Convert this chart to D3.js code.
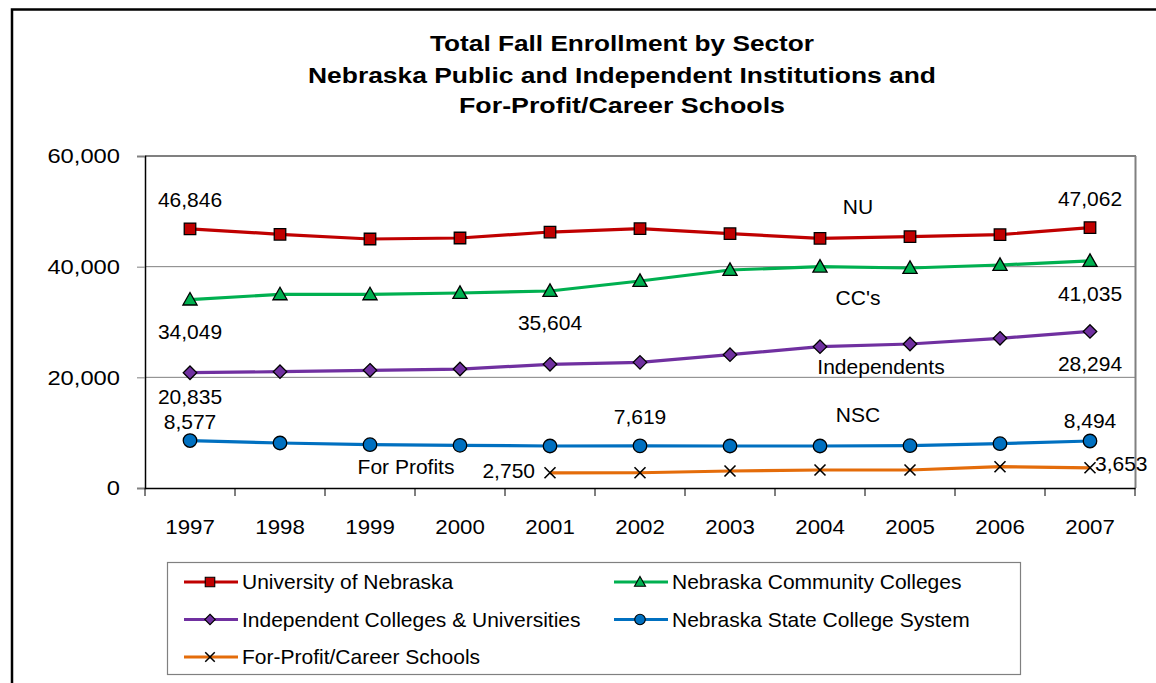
<!DOCTYPE html>
<html>
<head>
<meta charset="utf-8">
<script src="https://cdn.jsdelivr.net/npm/d3@7"></script>
<style>
  html, body { margin: 0; padding: 0; background: #fff; }
  svg { display: block; font-family: Arial, "Liberation Sans", sans-serif; }
</style>
</head>
<body>
<svg id="chart" width="1156" height="683"></svg>
<script>
// ---------------- data ----------------
const years = ["1997","1998","1999","2000","2001","2002","2003","2004","2005","2006","2007"];
const nuValues  = [46846, 45850, 45000, 45180, 46260, 46860, 45960, 45120, 45420, 45780, 47062];
const ccValues  = [34049, 35000, 35000, 35240, 35604, 37410, 39400, 40000, 39760, 40300, 41035];
const indValues = [20835, 21020, 21270, 21500, 22350, 22710, 24090, 25540, 26020, 27050, 28294];
const nscValues = [8577, 8130, 7830, 7710, 7590, 7619, 7590, 7590, 7650, 8010, 8494];
const fpValues  = [null, null, null, null, 2750, 2760, 3070, 3250, 3250, 3850, 3653];
const yTicks = [0, 20000, 40000, 60000];
const titleLines = [
  "Total Fall Enrollment by Sector",
  "Nebraska Public and Independent Institutions and",
  "For-Profit/Career Schools"
];
const seriesNames = [
  "University of Nebraska",
  "Nebraska Community Colleges",
  "Independent Colleges & Universities",
  "Nebraska State College System",
  "For-Profit/Career Schools"
];
const shortNames = ["NU", "CC's", "Independents", "NSC", "For Profits"];

// ---------------- setup ----------------
const svg = d3.select("#chart");
const M = { left: 145, right: 1135, top: 156, bottom: 488 };
const FONT = "Arial, 'Liberation Sans', sans-serif";

const x = d3.scaleBand().domain(years).range([M.left, M.right]).padding(0);
const xc = d => x(d) + x.bandwidth() / 2;
const y = d3.scaleLinear().domain([0, 60000]).range([M.bottom, M.top]);
const fmt = d3.format(",");

const series = [
  { name: seriesNames[0], values: nuValues,  color: "#C00000", marker: "square" },
  { name: seriesNames[1], values: ccValues,  color: "#00B050", marker: "triangle" },
  { name: seriesNames[2], values: indValues, color: "#7030A0", marker: "diamond" },
  { name: seriesNames[3], values: nscValues, color: "#0070C0", marker: "circle" },
  { name: seriesNames[4], values: fpValues,  color: "#E46C0A", marker: "x" }
];

function markerPath(type, s) {
  const h = s / 2;
  switch (type) {
    case "square": return `M${-h},${-h}H${h}V${h}H${-h}Z`;
    case "triangle": return `M0,${-h * 1.05}L${h * 1.05},${h * 0.8}L${-h * 1.05},${h * 0.8}Z`;
    case "diamond": return `M0,${-h}L${h},0L0,${h}L${-h},0Z`;
    case "circle": return `M${h},0A${h},${h} 0 1,1 ${-h},0A${h},${h} 0 1,1 ${h},0Z`;
    case "x": return `M${-h},${-h}L${h},${h}M${h},${-h}L${-h},${h}`;
  }
}
const markerSize = { square: 11.5, triangle: 13.5, diamond: 13.5, circle: 13.5, x: 11 };
const legendMarkerSize = { square: 9.5, triangle: 10.5, diamond: 10.5, circle: 10.5, x: 9.5 };

// stretch text horizontally by a factor (reference text is slightly wide)
function stretch(sel, k) {
  sel.each(function () {
    const w = this.getComputedTextLength();
    d3.select(this).attr("textLength", w * k).attr("lengthAdjust", "spacingAndGlyphs");
  });
}

// ---------------- frame ----------------
svg.append("rect").attr("x", 12).attr("y", 9.5).attr("width", 1170).attr("height", 700)
  .attr("fill", "none").attr("stroke", "#000").attr("stroke-width", 2.5);

// ---------------- title ----------------
const titleLens = [384, 628, 326];
const titleBase = [51, 82.5, 112.5];
titleLines.forEach((t, i) => {
  svg.append("text").attr("x", 622).attr("y", titleBase[i])
    .attr("text-anchor", "middle").attr("font-weight", "bold").attr("font-size", 22.5)
    .attr("textLength", titleLens[i]).attr("lengthAdjust", "spacingAndGlyphs")
    .text(t);
});

// ---------------- grid & plot border ----------------
svg.append("g").selectAll("line").data(yTicks.filter(v => v > 0 && v < 60000)).join("line")
  .attr("x1", M.left).attr("x2", M.right).attr("y1", d => y(d)).attr("y2", d => y(d))
  .attr("stroke", "#808080").attr("stroke-width", 1);
svg.append("line").attr("x1", M.left).attr("x2", M.right + 1).attr("y1", y(60000)).attr("y2", y(60000))
  .attr("stroke", "#808080").attr("stroke-width", 2);
svg.append("line").attr("x1", M.right + 0.5).attr("x2", M.right + 0.5).attr("y1", M.top).attr("y2", M.bottom)
  .attr("stroke", "#808080").attr("stroke-width", 2);

// ---------------- axes ----------------
const yAxis = d3.axisLeft(y).tickValues(yTicks).tickFormat(fmt).tickSize(8).tickPadding(17);
const gy = svg.append("g").attr("transform", `translate(${M.left},0)`).call(yAxis);
gy.select(".domain").attr("stroke", "#000").attr("stroke-width", 1.5);
gy.selectAll(".tick line").attr("stroke", "#808080").attr("stroke-width", 1);
gy.selectAll(".tick text").attr("font-size", 21).attr("fill", "#000").attr("font-family", FONT)
  .call(stretch, 1.13);

const xAxis = d3.axisBottom(x).tickSize(0).tickPadding(31);
const gx = svg.append("g").attr("transform", `translate(0,${M.bottom})`).call(xAxis);
gx.select(".domain").attr("stroke", "#000").attr("stroke-width", 1.5);
gx.selectAll(".tick text").attr("font-size", 21).attr("fill", "#000").attr("font-family", FONT)
  .call(stretch, 1.06);
// category boundary ticks
const bounds = years.map(d => x(d)).concat([x(years[years.length - 1]) + x.bandwidth()]);
svg.append("g").selectAll("line").data(bounds).join("line")
  .attr("x1", d => d).attr("x2", d => d).attr("y1", M.bottom).attr("y2", M.bottom + 8)
  .attr("stroke", "#000").attr("stroke-width", 1);

// ---------------- lines & markers ----------------
const line = d3.line().defined(d => d.v != null).x(d => xc(d.year)).y(d => y(d.v));
series.forEach(s => {
  const pts = years.map((yr, i) => ({ year: yr, v: s.values[i] }));
  svg.append("path").datum(pts).attr("d", line)
    .attr("fill", "none").attr("stroke", s.color).attr("stroke-width", 3.2)
    .attr("stroke-linejoin", "round");
  svg.append("g").selectAll("path").data(pts.filter(p => p.v != null)).join("path")
    .attr("transform", p => `translate(${xc(p.year)},${y(p.v)})`)
    .attr("d", markerPath(s.marker, markerSize[s.marker]))
    .attr("fill", s.marker === "x" ? "none" : s.color)
    .attr("stroke", "#000").attr("stroke-width", s.marker === "x" ? 1.6 : 1.3);
});

// ---------------- data labels ----------------
const dataLabels = [
  { s: 0, year: "1997", dx: 0, dy: -22, anchor: "middle" },
  { s: 0, year: "2007", dx: 0, dy: -21.5, anchor: "middle" },
  { s: 1, year: "1997", dx: 0, dy: 39, anchor: "middle" },
  { s: 1, year: "2001", dx: 0, dy: 39, anchor: "middle" },
  { s: 1, year: "2007", dx: 0, dy: 40, anchor: "middle" },
  { s: 2, year: "1997", dx: 0, dy: 31.5, anchor: "middle" },
  { s: 2, year: "2007", dx: 0, dy: 39.5, anchor: "middle" },
  { s: 3, year: "1997", dx: 0, dy: -11.5, anchor: "middle" },
  { s: 3, year: "2002", dx: 0, dy: -21.5, anchor: "middle" },
  { s: 3, year: "2007", dx: 0, dy: -13.3, anchor: "middle" },
  { s: 4, year: "2001", dx: -15, dy: 5.5, anchor: "end" },
  { s: 4, year: "2007", dx: 5, dy: 3, anchor: "start" }
];
svg.append("g").selectAll("text").data(dataLabels).join("text")
  .attr("x", d => xc(d.year) + d.dx)
  .attr("y", d => y(series[d.s].values[years.indexOf(d.year)]) + d.dy)
  .attr("text-anchor", d => d.anchor).attr("font-size", 21)
  .text(d => fmt(series[d.s].values[years.indexOf(d.year)]));

// ---------------- series name labels ----------------
const nameLabels = [
  { i: 0, year: "2004", dx: 38, v: 60000, dy: 58 },
  { i: 1, year: "2004", dx: 38, v: 40000, dy: 38 },
  { i: 2, year: "2004", dx: 61, v: 20000, dy: -3.5 },
  { i: 3, year: "2004", dx: 38, v: 20000, dy: 45 },
  { i: 4, year: "1999", dx: 36, v: 0, dy: -14.5 }
];
svg.append("g").selectAll("text").data(nameLabels).join("text")
  .attr("x", d => xc(d.year) + d.dx).attr("y", d => y(d.v) + d.dy)
  .attr("text-anchor", "middle").attr("font-size", 21)
  .text(d => shortNames[d.i]);

// ---------------- legend ----------------
const lg = svg.append("g");
lg.append("rect").attr("x", 167.5).attr("y", 562.5).attr("width", 853).attr("height", 112)
  .attr("fill", "#fff").attr("stroke", "#808080").attr("stroke-width", 1.2);
const legendPos = [
  { x: 184, y: 582 }, { x: 614, y: 582 },
  { x: 184, y: 619.5 }, { x: 614, y: 619.5 },
  { x: 184, y: 657 }
];
series.forEach((s, i) => {
  const p = legendPos[i];
  const g = lg.append("g").attr("transform", `translate(${p.x},${p.y})`);
  g.append("line").attr("x1", 0).attr("x2", 54).attr("y1", 0).attr("y2", 0)
    .attr("stroke", s.color).attr("stroke-width", 3.2);
  g.append("path").attr("transform", "translate(26,0)")
    .attr("d", markerPath(s.marker, legendMarkerSize[s.marker]))
    .attr("fill", s.marker === "x" ? "none" : s.color)
    .attr("stroke", "#000").attr("stroke-width", s.marker === "x" ? 1.5 : 1.1);
  g.append("text").attr("x", 58).attr("y", 0).attr("dy", "0.35em")
    .attr("font-size", 21).text(s.name);
});
</script>
</body>
</html>
